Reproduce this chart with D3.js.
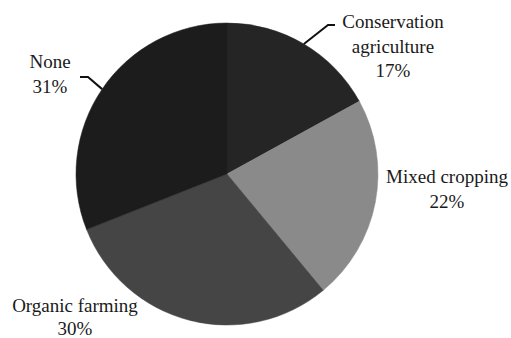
<!DOCTYPE html>
<html>
<head>
<meta charset="utf-8">
<script src="https://cdn.jsdelivr.net/npm/d3@7/dist/d3.min.js"></script>
<style>
html,body{margin:0;padding:0;background:#fff;}
svg{display:block;}
</style>
</head>
<body>
<svg id="chart" width="511" height="338"></svg>
<script>
const categories = ["Conservation agriculture", "Mixed cropping", "Organic farming", "None"];
const values = [17, 22, 30, 31];
const labelLines = [["Conservation", "agriculture", "17%"], ["Mixed cropping", "22%"], ["Organic farming", "30%"], ["None", "31%"]];
const colors = ["#252525", "#8a8a8a", "#454545", "#1c1c1c"];

const W = 511, H = 338;
const cx = 227, cy = 174, R = 151;
const FONT = "'Liberation Serif', Tinos, 'Times New Roman', 'DejaVu Serif', serif";
const svg = d3.select("#chart");
const g = svg.append("g").attr("transform", `translate(${cx},${cy})`);

const pie = d3.pie().sort(null).value(d => d.v);
const data = categories.map((c, i) => ({c, v: values[i], lines: labelLines[i], color: colors[i]}));
const arcs = pie(data);
const arc = d3.arc().innerRadius(0).outerRadius(R);

g.selectAll("path.slice").data(arcs).enter().append("path")
  .attr("class", "slice")
  .attr("d", arc)
  .attr("fill", d => d.data.color)
  .attr("stroke", d => d.data.color)
  .attr("stroke-width", 0.5);

// label layout (relative to pie centre): text anchor x, first baseline y, line height, leader elbow & end
const layout = [
  {tx: 166, ty: -146, lh: 24.5, elbow: [101, -149], end: [108, -149]},
  {tx: 220, ty: 9, lh: 24.5, elbow: null},
  {tx: -152, ty: 138, lh: 22.5, elbow: null},
  {tx: -177, ty: -106, lh: 24.5, elbow: [-139, -97], end: [-147, -97]}
];

arcs.forEach((a, i) => {
  const L = layout[i];
  const t = g.append("text")
    .attr("text-anchor", "middle")
    .attr("font-family", FONT)
    .attr("font-size", 19)
    .attr("fill", "#1a1a1a");
  a.data.lines.forEach((s, j) => {
    t.append("tspan").attr("x", L.tx).attr("y", L.ty + j * L.lh).text(s);
  });
  if (L.elbow) {
    const mid = (a.startAngle + a.endAngle) / 2;
    const p0 = [R * Math.sin(mid), -R * Math.cos(mid)];
    g.append("path")
      .attr("d", d3.line()([p0, L.elbow, L.end]))
      .attr("fill", "none")
      .attr("stroke", "#111")
      .attr("stroke-width", 2);
  }
});
</script>
</body>
</html>
